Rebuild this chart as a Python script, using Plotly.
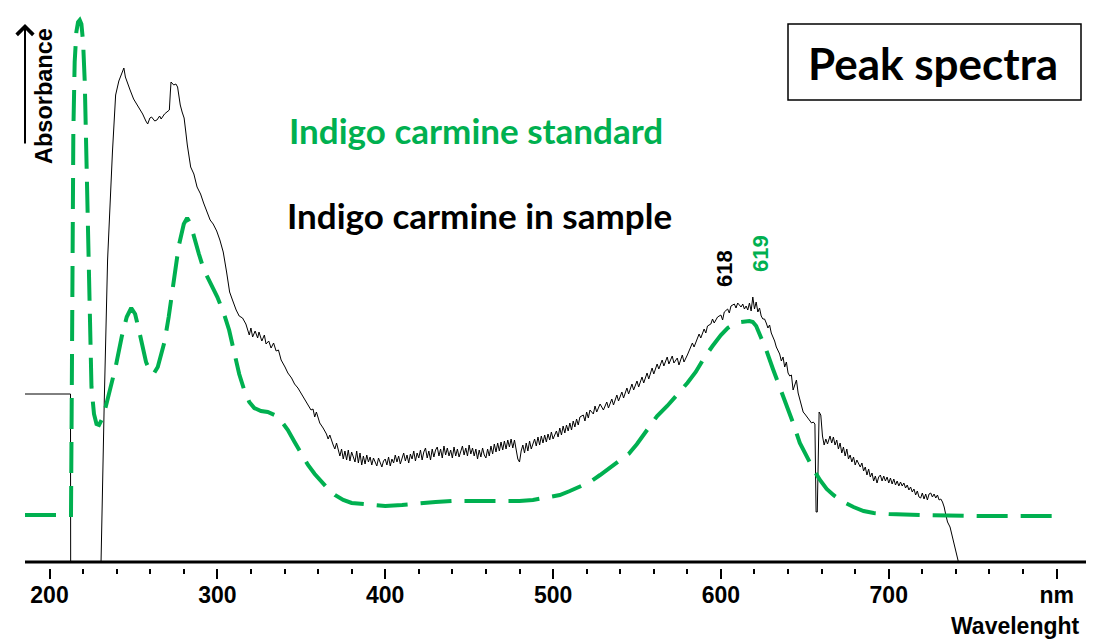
import plotly.graph_objects as go

# ---------------- data ----------------
# Indigo carmine standard (green dashed), wavelength nm / relative absorbance
wl_standard = [185.4, 200, 212.8, 213.2, 213.6, 214.2, 215, 216, 217, 218, 219, 220, 221, 222, 223, 224, 225,
               226.5, 228, 229.5, 231, 233, 236, 239.4, 243, 246, 248.7, 251, 253, 255, 257.5, 260, 262, 264.5,
               266.5, 268.5, 271, 274, 277, 280, 282, 284, 286.5, 289, 292, 296, 300, 304, 307, 310, 313, 316,
               319, 322, 326, 330, 334, 338, 342, 346, 350, 354, 358, 362, 366, 370, 375, 380, 390, 400, 410,
               420, 430, 440, 450, 460, 470, 480, 488, 496, 504, 510, 516, 522, 528, 534, 540, 545, 550, 556,
               562, 568, 574, 580, 585, 590, 595, 600, 604, 608, 612, 617, 619, 621, 624, 627, 631, 635, 639,
               643, 647, 651, 655, 659, 663, 667, 672, 679, 685, 691, 700, 719, 755, 800]
abs_standard = [47, 47, 47, 150, 300, 430, 500, 530, 540, 542, 538, 520, 480, 400, 300, 220, 175,
                148, 138, 137, 142, 152, 172, 195, 225, 245, 254, 248, 234, 220, 200, 190, 188, 195,
                208, 220, 245, 281, 316, 338, 344, 338, 322, 308, 292, 278, 265, 248, 232, 210, 188, 172,
                160, 154, 151, 150, 147, 141, 132, 120, 108, 97, 88, 80, 73, 67, 62, 59, 57, 56, 57,
                59, 60, 61, 61, 61, 60, 61, 62, 64, 67, 71, 75, 80, 87, 94, 101, 108, 118, 132,
                146, 156, 167, 179, 190, 204, 216, 227, 234, 238, 240, 241, 240, 236, 224, 212, 193, 175, 158,
                139, 119, 105, 93, 82, 73, 67, 61, 55, 51, 49, 48, 47, 46, 46]

# Indigo carmine in sample (black solid)
wl_sample = [185.4, 212.5, 212.6, 230.7, 232.6, 234.6, 237.5, 239.4, 241.3, 243, 244.3, 245.2, 246.2, 248, 250.1,
             252, 253.9, 255.5, 257.4, 258.5, 259.8, 260.8, 262.7, 264, 265.6, 266.5, 268.5, 270, 271.4, 272,
             272.4, 274, 275.3, 276.3, 277.9, 279, 280.2, 281.2, 282.1, 284.1, 286, 287.9, 290, 291.8, 293.5,
             295.7, 297.5, 299.6, 301.5, 303.5, 305.5, 307.3, 309, 311.2, 313, 315, 317, 318, 319, 320, 321,
             322.5, 324, 324.8, 326.5, 328, 329, 330.6, 332, 333.5, 335, 336.4, 338, 340.3, 342, 344.2, 346,
             348, 350, 352, 354, 355.8, 357, 358, 359, 361, 363, 365, 366, 367, 369, 370, 371, 373, 374, 375,
             376, 377, 378, 379, 380, 381, 382, 383, 384, 385, 386, 387, 388, 389, 390, 391, 392, 393, 394,
             395, 396, 397, 398, 399, 400, 401, 402, 403, 404, 405, 406, 407, 408, 409, 410, 411, 412, 413,
             414, 415, 416, 417, 418, 419, 420, 421, 422, 423, 424, 425, 426, 427, 428, 429, 430, 431, 432,
             433, 434, 435, 436, 437, 438, 439, 440, 441, 442, 443, 444, 445, 446, 447, 448, 449, 450, 451,
             452, 453, 454, 455, 456, 457, 458, 459, 460, 461, 462, 463, 464, 465, 466, 467, 468, 469, 470,
             471, 472, 473, 474, 475, 476, 477, 478, 479, 480, 481, 482, 483, 484, 485, 486, 487, 488, 489,
             490, 491, 492, 493, 494, 495, 496, 497, 498, 499, 500, 502, 503, 504, 505, 506, 507, 508, 509,
             510, 511, 512, 513, 514, 515, 516, 518, 519, 520, 521, 522, 524, 525, 526, 528, 530, 532, 533,
             535, 536, 538, 539, 541, 542, 544, 545, 547, 548, 550, 551, 553, 554, 556, 557, 559, 560, 562,
             563, 565, 566, 568, 569, 571, 572, 574, 575, 577, 578, 580, 581, 582, 583, 584, 586, 587, 588,
             590, 591, 592, 594, 595, 596, 598, 600, 601, 602, 604, 605, 606, 608, 609, 610, 612, 613, 614,
             615, 616, 617, 618, 619, 620, 621, 622, 623, 624, 625, 626, 627, 628, 629, 630, 631, 632, 633,
             634, 635, 636, 637, 638, 639, 640, 641, 642, 643, 644, 645, 646, 647, 648, 649, 650, 651, 652,
             653, 654, 655, 656, 656.7, 657.4, 658.5, 659.5, 660.5, 661.5, 662.5, 663.5, 665, 666, 667, 668,
             669, 670, 671, 672, 673, 674, 675, 676, 677, 678, 679, 680, 681, 683, 684, 685, 686, 687, 688,
             689, 690, 691, 692, 693, 694, 695, 696, 697, 698, 699, 700, 701, 702, 703, 704, 705, 706, 707,
             708, 709, 710, 711, 712, 713, 714, 715, 716, 717, 718, 719, 720, 721, 722, 723, 724, 725, 726,
             727, 728, 729, 730, 731, 732, 733, 734, 735, 736.5, 738, 739.5, 741.5]
abs_sample = [168, 168, 0, 0, 159, 302, 410, 467, 481, 488, 494, 485, 480, 472, 463,
              458, 452, 448, 441, 438, 444, 445, 441, 442, 446, 443, 448, 450, 452, 470,
              480, 477, 478, 475, 457, 450, 444, 430, 417, 395, 388, 375, 368, 359, 352,
              342, 338, 331, 322, 310, 290, 270, 262, 252, 246, 244, 238, 232, 227, 234, 225,
              231, 224, 230, 221, 227, 218, 221, 214, 219, 211, 212, 202, 195, 189, 184, 178,
              174, 168, 163, 157, 152, 153, 145, 150, 139, 134, 128, 123, 127, 117, 113, 119, 106, 113, 103,
              111, 102, 112, 101, 110, 105, 100, 111, 99, 109, 97, 106, 98, 107, 100, 105, 97, 104, 99,
              96, 104, 100, 95, 101, 103, 97, 105, 96, 103, 99, 107, 100, 106, 98, 105, 109, 101, 107,
              99, 108, 103, 111, 101, 109, 104, 112, 102, 110, 114, 104, 111, 102, 113, 105, 112, 115, 106,
              113, 104, 116, 107, 114, 106, 112, 104, 115, 106, 113, 105, 111, 116, 107, 114, 106, 117, 108,
              114, 106, 113, 103, 112, 105, 114, 107, 104, 113, 106, 116, 108, 118, 110, 119, 111, 120, 112,
              121, 113, 122, 115, 123, 114, 122, 110, 103, 100, 111, 117, 109, 119, 111, 121, 113, 118, 123,
              116, 125, 117, 126, 119, 127, 120, 128, 122, 130, 123, 131, 125, 134, 127, 136, 129, 137, 131,
              139, 132, 141, 135, 143, 137, 145, 147, 141, 150, 144, 152, 148, 156, 150, 158, 152, 160, 154,
              163, 157, 167, 161, 170, 164, 174, 168, 178, 172, 181, 175, 185, 179, 189, 183, 194, 188, 198,
              193, 202, 196, 205, 198, 206, 199, 204, 197, 207, 200, 207, 211, 215, 219, 215, 223, 228, 224,
              233, 229, 236, 238, 243, 239, 245, 247, 242, 250, 253, 249, 256, 258, 254, 259, 255, 258, 253,
              256, 252, 259, 251, 265, 253, 260, 250, 254, 246, 243, 243, 239, 234, 237, 229, 225, 221, 215,
              211, 208, 201, 205, 195, 200, 189, 186, 187, 172, 177, 182, 169, 162, 155, 150, 148, 146, 143,
              142, 139, 140, 138, 50, 50, 150, 147, 126, 117, 123, 118, 126, 119, 125, 117,
              122, 113, 119, 109, 115, 106, 113, 103, 107, 100, 105, 97, 102, 95, 99, 91, 95, 87, 93,
              85, 89, 81, 86, 79, 85, 87, 81, 86, 81, 85, 79, 84, 78, 83, 77, 81, 76, 80,
              76, 79, 74, 77, 72, 75, 70, 73, 67, 71, 65, 64, 69, 63, 68, 62, 68, 69, 65,
              68, 64, 67, 62, 63, 60, 55, 47, 40, 35, 25, 15, 0]

major_ticks = [200, 300, 400, 500, 600, 700, 800]
major_labels = ["200", "300", "400", "500", "600", "700", "nm"]
minor_ticks = [t for t in range(200, 801, 20) if t % 100 != 0]

GREEN = "#00B050"

# ---------------- geometry helpers (layout only) ----------------
W, H = 1094, 640
ML, MR, MT, MB = 25, 8, 0, 72
PW, PH = W - ML - MR, H - MT - MB


def px(x):
    return (x - ML) / PW


def py(y):
    return (H - MB - y) / PH


fig = go.Figure()
fig.add_trace(go.Scatter(x=wl_sample, y=abs_sample, mode="lines",
                         line=dict(color="black", width=1), hoverinfo="skip"))
fig.add_trace(go.Scatter(x=wl_standard, y=abs_standard, mode="lines",
                         line=dict(color=GREEN, width=4, dash="31px,13px"), hoverinfo="skip"))

CAL = "Lato"
ARIAL = "Liberation Sans"

fig.update_layout(
    width=W, height=H, margin=dict(l=ML, r=MR, t=MT, b=MB, autoexpand=False),
    paper_bgcolor="white", plot_bgcolor="white", showlegend=False,
    xaxis=dict(range=[185.4, 817.5], showgrid=False, zeroline=False, showline=False,
               tickmode="array", tickvals=major_ticks, ticktext=major_labels,
               ticks="outside", ticklen=10, tickwidth=2, tickcolor="black",
               ticklabelstandoff=-4, automargin=False,
               tickfont=dict(family=ARIAL, size=23, color="black", weight="bold"),
               minor=dict(tickmode="array", tickvals=minor_ticks, ticks="outside",
                          ticklen=5, tickwidth=2, tickcolor="black")),
    yaxis=dict(range=[-6, 562], visible=False, showgrid=False, zeroline=False),
)

# x axis line (slightly above the tick marks, as in the reference)
fig.add_shape(type="line", xref="paper", yref="y", x0=0, x1=1, y0=0, y1=0,
              line=dict(color="black", width=3))

# title box
fig.add_shape(type="rect", xref="paper", yref="paper", x0=px(788), x1=px(1081), y0=py(24), y1=py(100),
              line=dict(color="black", width=1.5), fillcolor="white", layer="below")

ann = [
    dict(text="<b>Peak spectra</b>", x=px(933), y=py(63), font=dict(family=CAL, size=44, color="black")),
    dict(text="<b>Indigo carmine standard</b>", x=px(476), y=py(130), font=dict(family=CAL, size=35, color=GREEN)),
    dict(text="<b>Indigo carmine in sample</b>", x=px(479), y=py(215), font=dict(family=CAL, size=35, color="black")),
    dict(text="<b>618</b>", x=px(724), y=py(269), textangle=-90, font=dict(family=ARIAL, size=22, color="black")),
    dict(text="<b>619</b>", x=px(761), y=py(254), textangle=-90, font=dict(family=ARIAL, size=22, color=GREEN)),
    dict(text="<b>Absorbance</b>", x=px(44), y=py(96), textangle=-90, font=dict(family=ARIAL, size=23.5, color="black")),
]
for a in ann:
    fig.add_annotation(xref="paper", yref="paper", showarrow=False, xanchor="center", yanchor="middle", **a)

fig.add_annotation(xref="paper", yref="paper", showarrow=False, xanchor="center", yanchor="bottom",
                   text="<b>Wavelenght</b>", x=px(1015), y=py(640), borderpad=0,
                   font=dict(family=ARIAL, size=23, color="black"))

# absorbance arrow
fig.add_annotation(xref="paper", yref="paper", x=px(25), y=py(24), ax=0, ay=121, text="",
                   showarrow=True, arrowhead=4, arrowsize=1.6, arrowwidth=2, arrowcolor="black")

fig.write_html("out.html", config={"displayModeBar": False},
               post_script="document.body.style.margin='0';")
